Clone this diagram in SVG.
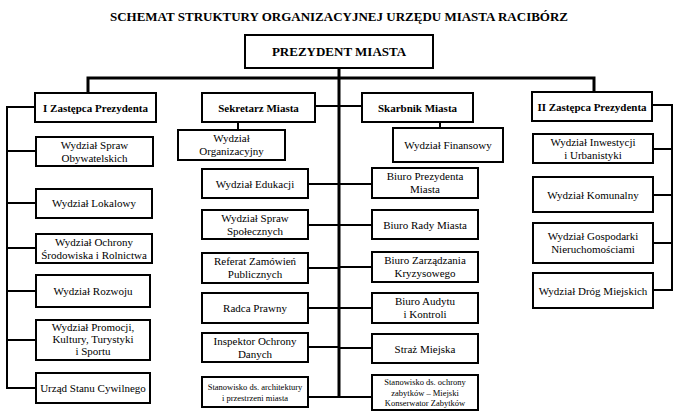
<svg xmlns="http://www.w3.org/2000/svg" width="680" height="414" viewBox="0 0 680 414">
<style>
.b{fill:#fff;stroke:#000;stroke-width:2}
.t{font-family:"Liberation Serif","Times New Roman",serif;font-size:11px;text-anchor:middle;fill:#000}
.s{font-family:"Liberation Serif","Times New Roman",serif;font-size:8.5px;text-anchor:middle;fill:#000}
.h{font-family:"Liberation Serif","Times New Roman",serif;font-size:11px;font-weight:bold;text-anchor:middle;fill:#000}
.c{fill:none;stroke:#000;stroke-width:2}
.k{fill:none;stroke:#000;stroke-width:3}
</style>
<rect width="680" height="414" fill="#fff"/>
<text x="339" y="21" style="font-family:'Liberation Serif','Times New Roman',serif;font-size:13px;font-weight:bold;text-anchor:middle">SCHEMAT STRUKTURY ORGANIZACYJNEJ URZĘDU MIASTA RACIBÓRZ</text>

<g id="connectors">
<path class="k" d="M88 94V78H594V92"/>
<path class="k" d="M339 68V398"/>
<path class="c" d="M315 106H362"/>
<path class="c" d="M238 122V130M440 122V128"/>
<path class="c" d="M35 107H7V388H36M7 151H36M7 203H36M7 248H36M7 291H36M7 340H36"/>
<path class="c" d="M652 105H672V290H653M672 149H653M672 195H653M672 243H653"/>
<path class="c" d="M308 184H339M308 225H339M308 268H339M308 308H339M308 347H339M308 397H339"/>
<path class="c" d="M339 184H372M339 225H372M339 267H372M339 308H372M339 348H372M339 397H372"/>
</g>

<g id="prezydent"><rect class="b" x="245" y="35" width="188" height="33"/><text x="339" y="56" class="h" style="font-size:13px">PREZYDENT MIASTA</text></g>

<g id="zastepca1"><rect class="b" x="35" y="93" width="121" height="29"/><text x="95.5" y="111.5" class="h">I Zastępca Prezydenta</text></g>
<g id="sekretarz"><rect class="b" x="202" y="93" width="113" height="29"/><text x="258.5" y="111.5" class="h">Sekretarz Miasta</text></g>
<g id="skarbnik"><rect class="b" x="362" y="93" width="111" height="29"/><text x="417.5" y="111.5" class="h">Skarbnik Miasta</text></g>
<g id="zastepca2"><rect class="b" x="532" y="92" width="120" height="29"/><text x="592" y="110.5" class="h">II Zastępca Prezydenta</text></g>

<g id="organizacyjny"><rect class="b" x="178" y="130" width="107" height="30"/><text x="231.5" y="142" class="t">Wydział</text><text x="231.5" y="155" class="t">Organizacyjny</text></g>
<g id="finansowy"><rect class="b" x="393" y="128" width="110" height="34"/><text x="448" y="149" class="t">Wydział Finansowy</text></g>

<g id="obywatelskich"><rect class="b" x="36" y="137" width="117" height="29"/><text x="94.5" y="149" class="t">Wydział Spraw</text><text x="94.5" y="162" class="t">Obywatelskich</text></g>
<g id="lokalowy"><rect class="b" x="36" y="189" width="116" height="29"/><text x="94" y="207" class="t">Wydział Lokalowy</text></g>
<g id="ochrony"><rect class="b" x="36" y="234" width="116" height="29"/><text x="94" y="246" class="t">Wydział Ochrony</text><text x="94" y="259" class="t">Środowiska i Rolnictwa</text></g>
<g id="rozwoju"><rect class="b" x="36" y="275" width="114" height="32"/><text x="93" y="295" class="t">Wydział Rozwoju</text></g>
<g id="promocji"><rect class="b" x="36" y="320" width="114" height="40"/><text x="93" y="331" class="t">Wydział Promocji,</text><text x="93" y="343" class="t">Kultury, Turystyki</text><text x="93" y="355" class="t">i Sportu</text></g>
<g id="usc"><rect class="b" x="36" y="373" width="114" height="30"/><text x="93" y="392" class="t">Urząd Stanu Cywilnego</text></g>

<g id="edukacji"><rect class="b" x="202" y="169" width="106" height="29"/><text x="255" y="187.5" class="t">Wydział Edukacji</text></g>
<g id="spoleczne"><rect class="b" x="202" y="210" width="106" height="29"/><text x="255" y="222" class="t">Wydział Spraw</text><text x="255" y="235" class="t">Społecznych</text></g>
<g id="referat"><rect class="b" x="202" y="253" width="106" height="30"/><text x="255" y="265" class="t">Referat Zamówień</text><text x="255" y="278" class="t">Publicznych</text></g>
<g id="radca"><rect class="b" x="202" y="293" width="106" height="30"/><text x="255" y="312" class="t">Radca Prawny</text></g>
<g id="inspektor"><rect class="b" x="202" y="333" width="106" height="29"/><text x="255" y="345" class="t">Inspektor Ochrony</text><text x="255" y="358" class="t">Danych</text></g>
<g id="architektura"><rect class="b" x="202" y="377" width="106" height="30"/><text x="255" y="390" class="s">Stanowisko ds. architektury</text><text x="255" y="401" class="s">i przestrzeni miasta</text></g>

<g id="biuro-prezydenta"><rect class="b" x="372" y="168" width="106" height="30"/><text x="425" y="180" class="t">Biuro Prezydenta</text><text x="425" y="193" class="t">Miasta</text></g>
<g id="biuro-rady"><rect class="b" x="372" y="210" width="106" height="29"/><text x="425" y="228.5" class="t">Biuro Rady Miasta</text></g>
<g id="kryzysowe"><rect class="b" x="372" y="252" width="106" height="30"/><text x="425" y="264" class="t">Biuro Zarządzania</text><text x="425" y="277" class="t">Kryzysowego</text></g>
<g id="audyt"><rect class="b" x="372" y="293" width="106" height="30"/><text x="425" y="305" class="t">Biuro Audytu</text><text x="425" y="318" class="t">i Kontroli</text></g>
<g id="straz"><rect class="b" x="372" y="334" width="106" height="29"/><text x="425" y="352.5" class="t">Straż Miejska</text></g>
<g id="zabytki"><rect class="b" x="372" y="375" width="106" height="35"/><text x="425" y="385" class="s">Stanowisko ds. ochrony</text><text x="425" y="395.5" class="s">zabytków – Miejski</text><text x="425" y="406" class="s">Konserwator Zabytków</text></g>

<g id="inwestycji"><rect class="b" x="533" y="134" width="120" height="29"/><text x="593" y="146" class="t">Wydział Inwestycji</text><text x="593" y="159" class="t">i Urbanistyki</text></g>
<g id="komunalny"><rect class="b" x="533" y="177" width="120" height="35"/><text x="593" y="198.5" class="t">Wydział Komunalny</text></g>
<g id="gospodarki"><rect class="b" x="533" y="223" width="120" height="40"/><text x="593" y="240" class="t">Wydział Gospodarki</text><text x="593" y="253" class="t">Nieruchomościami</text></g>
<g id="drogi"><rect class="b" x="533" y="273" width="120" height="35"/><text x="593" y="294.5" class="t">Wydział Dróg Miejskich</text></g>
</svg>
